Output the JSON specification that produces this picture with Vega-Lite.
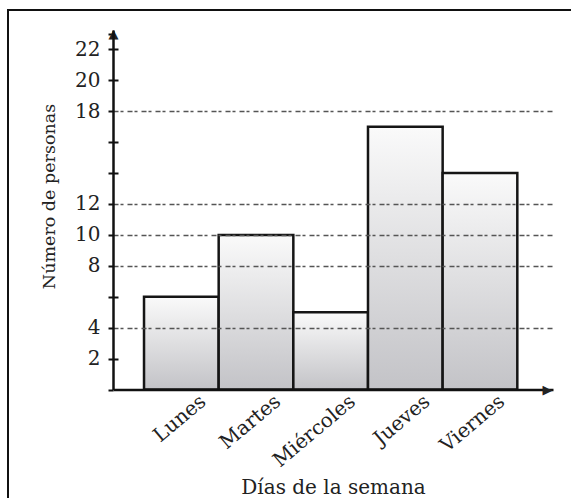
{
  "$schema": "https://vega.github.io/schema/vega-lite/v6.json",
  "width": 564,
  "height": 489,
  "autosize": {"type": "none"},
  "padding": {"left": 8, "top": 10, "right": -1, "bottom": -1},
  "background": "white",
  "config": {"view": {"stroke": "#111", "strokeWidth": 2, "fill": "white"}},
  "data": {"values": [
    {"dia": "Lunes", "personas": 6},
    {"dia": "Martes", "personas": 10},
    {"dia": "Miércoles", "personas": 5},
    {"dia": "Jueves", "personas": 17},
    {"dia": "Viernes", "personas": 14}
  ]},
  "mark": {
    "type": "bar",
    "fill": {"gradient": "linear", "x1": 0, "y1": 0, "x2": 0, "y2": 1,
      "stops": [{"offset": 0, "color": "#fafafa"}, {"offset": 1, "color": "#c3c3c7"}]},
    "stroke": "#151515",
    "strokeWidth": 2.5
  },
  "encoding": {
    "x": {
      "field": "dia", "type": "nominal", "sort": null,
      "scale": {"range": [105, 545], "paddingInner": 0, "paddingOuter": 0.4467, "align": 0.465},
      "axis": {
        "offset": -109.5,
        "zindex": 1,
        "grid": false,
        "ticks": false,
        "domainColor": "#111",
        "domainWidth": 2.5,
        "labelAngle": -40,
        "labelAlign": "right",
        "labelBaseline": "middle",
        "labelOffset": 22,
        "labelPadding": 9,
        "labelFont": "DejaVu Serif",
        "labelFontSize": 20,
        "labelColor": "#222",
        "title": "Días de la semana",
        "titleFont": "DejaVu Serif",
        "titleFontSize": 20,
        "titleFontWeight": "normal",
        "titleColor": "#222",
        "titlePadding": 7
      }
    },
    "y": {
      "field": "personas", "type": "quantitative",
      "scale": {"domain": [0, 23.25], "range": [379.5, 20], "nice": false, "zero": true},
      "axis": {
        "offset": -105,
        "zindex": 1,
        "values": [0, 2, 4, 6, 8, 10, 12, 14, 16, 18, 20, 22, 23],
        "labelExpr": "datum.value == 0 ? '▶' : datum.value == 23 ? '▲' : (datum.value == 6 || datum.value == 14 || datum.value == 16) ? '' : datum.label",
        "labelOverlap": false,
        "domainColor": "#111",
        "domainWidth": 2.5,
        "ticks": true,
        "tickColor": "#111",
        "tickWidth": 2,
        "tickSize": 5,
        "labelPadding": {"condition": [{"test": "datum.value == 0", "value": -439}, {"test": "datum.value == 23", "value": -5}], "value": 8},
        "labelAlign": {"condition": {"test": "datum.value == 0 || datum.value == 23", "value": "center"}, "value": "right"},
        "labelBaseline": "middle",
        "labelFont": {"condition": {"test": "datum.value == 0 || datum.value == 23", "value": "DejaVu Sans"}, "value": "DejaVu Serif"},
        "labelFontSize": {"condition": {"test": "datum.value == 0 || datum.value == 23", "value": 13}, "value": 20},
        "labelColor": "#222",
        "grid": true,
        "gridColor": {"condition": {"test": "indexof([4, 8, 10, 12, 18], datum.value) >= 0", "value": "#555"}, "value": "#111"},
        "gridWidth": {"condition": {"test": "indexof([4, 8, 10, 12, 18], datum.value) >= 0", "value": 1.5}, "value": 2},
        "gridDash": {"condition": {"test": "indexof([4, 8, 10, 12, 18], datum.value) >= 0", "value": [5, 2, 3, 4]}, "value": [5, 3000]},
        "gridOpacity": {"condition": {"test": "datum.value == 0 || datum.value == 23", "value": 0}, "value": 1},
        "title": "Número de personas",
        "titleFont": "DejaVu Serif",
        "titleFontSize": 17.5,
        "titleFontWeight": "normal",
        "titleColor": "#222",
        "titleX": -55,
        "titleY": 186
      }
    }
  }
}
